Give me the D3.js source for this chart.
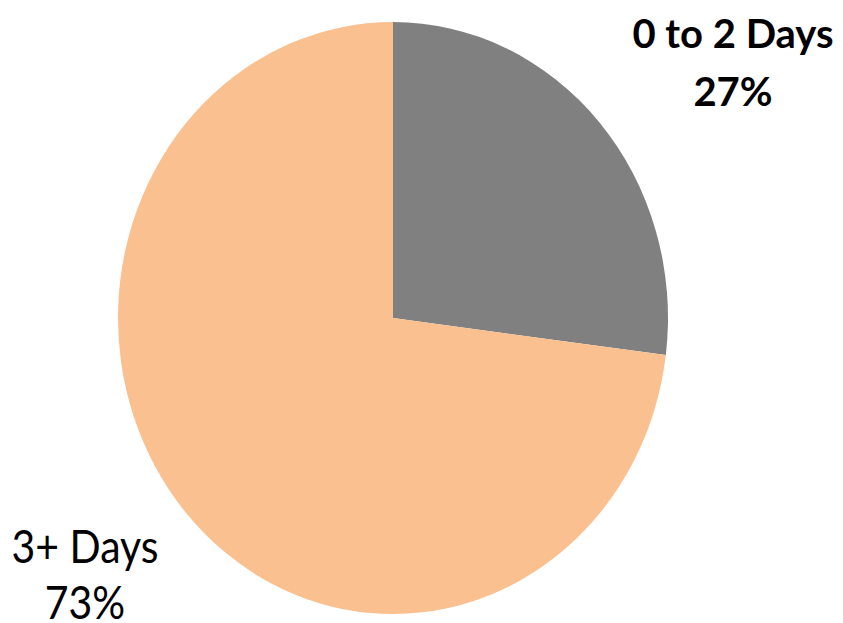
<!DOCTYPE html>
<html lang="en">
<head>
<meta charset="UTF-8">
<title>Days pie</title>
<script src="https://cdn.jsdelivr.net/npm/d3@7/dist/d3.min.js"></script>
<style>
  body { margin: 0; background: #fff; }
  text { font-family: Lato, "Open Sans", sans-serif; fill: #000; }
</style>
</head>
<body>
<script>
  var categories = ["0 to 2 Days", "3+ Days"];
  var values = [27, 73];
  var pctLabels = ["27%", "73%"];
  var colors = ["#808080", "#FAC090"];

  var width = 843, height = 623;
  var cx = 393, cy = 318, rx = 275, ry = 296;

  var svg = d3.select("body").append("svg")
      .attr("width", width).attr("height", height);

  var data = categories.map((c, i) => ({name: c, value: values[i], pct: pctLabels[i], color: colors[i]}));
  var slices = d3.pie().sort(null).value(d => d.value)(data);
  var arc = d3.arc().innerRadius(0).outerRadius(rx);

  // the pie in the picture is a bit taller than wide
  var g = svg.append("g")
      .attr("transform", "translate(" + cx + "," + cy + ") scale(1," + (ry / rx) + ")");
  g.selectAll("path").data(slices).enter().append("path")
      .attr("d", arc)
      .attr("fill", d => d.data.color);

  // labels outside the pie
  var labelPos = [
    {x: 733, y: 48, dy: 58, size: 40, sy: 1.0, weight: "bold"},
    {x: 85, y: 563, dy: 50, size: 41, sy: 1.12, weight: "normal"}
  ];
  var labels = svg.selectAll("g.label").data(slices).enter().append("g")
      .attr("class", "label")
      .attr("transform", (d, i) => "translate(" + labelPos[i].x + "," + labelPos[i].y + ") scale(1," + labelPos[i].sy + ")");
  labels.append("text")
      .attr("text-anchor", "middle")
      .style("font-size", (d, i) => labelPos[i].size + "px")
      .style("font-weight", (d, i) => labelPos[i].weight)
      .text(d => d.data.name);
  labels.append("text")
      .attr("text-anchor", "middle")
      .attr("y", (d, i) => labelPos[i].dy)
      .style("font-size", (d, i) => labelPos[i].size + "px")
      .style("font-weight", (d, i) => labelPos[i].weight)
      .text(d => d.data.pct);
</script>
</body>
</html>
